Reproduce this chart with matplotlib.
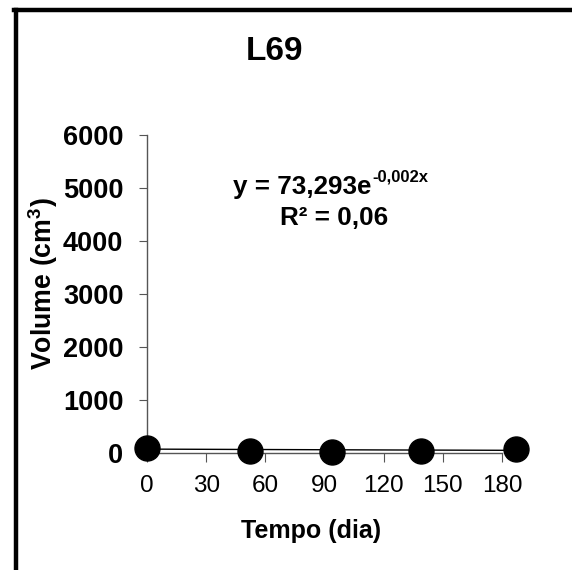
import numpy as np
import matplotlib
matplotlib.use("Agg")
import matplotlib.pyplot as plt
from matplotlib.lines import Line2D

plt.rcParams['font.family'] = ['Liberation Sans', 'DejaVu Sans']
plt.rcParams['mathtext.fontset'] = 'custom'
plt.rcParams['mathtext.rm'] = 'Liberation Sans:bold'
plt.rcParams['mathtext.default'] = 'rm'

# measured volumes per sampling day
dias = [0, 52, 94, 139, 187]
volume = [95, 35, 25, 30, 75]

# exponential trend as reported on the chart
coef_a = 73.293
coef_b = -0.002
r2 = 0.06

x_ticks = [0, 30, 60, 90, 120, 150, 180]
y_ticks = [0, 1000, 2000, 3000, 4000, 5000, 6000]

W, H = 572, 570
fig = plt.figure(figsize=(W / 100, H / 100), dpi=100)
fig.patch.set_facecolor('white')

def fx(px):
    return px / W

def fy(py):
    return 1 - py / H

ax = fig.add_axes([fx(147), fy(453), fx(502) - fx(147), fy(135) - fy(453)])
ax.set_xlim(0, 180)
ax.set_ylim(0, 6000)

xx = np.linspace(0, max(dias), 200)
ax.plot(xx, coef_a * np.exp(coef_b * xx), color='black', lw=1.0, clip_on=False, zorder=3)
ax.plot(dias, volume, 'o', ms=18, color='black', clip_on=False, zorder=4)

for side in ['top', 'right']:
    ax.spines[side].set_visible(False)
for side in ['left', 'bottom']:
    ax.spines[side].set_color('#555555')
    ax.spines[side].set_linewidth(1.0)

ax.set_xticks(x_ticks)
ax.set_yticks(y_ticks)
ax.tick_params(axis='x', direction='out', length=6.5, width=0.8, color='#555555',
               pad=9, labelsize=17.5)
ax.tick_params(axis='y', direction='out', length=6, width=0.8, color='#555555',
               pad=11, labelsize=19.5)
for lab in ax.get_yticklabels():
    lab.set_fontweight('bold')

# title, axis labels
fig.text(fx(274), fy(52), 'L69', ha='center', va='center', fontsize=24, fontweight='bold')
fig.text(fx(43), fy(284), 'Volume (cm$^{3}$)', ha='center', va='center',
         rotation=90, fontsize=19.3, fontweight='bold')
fig.text(fx(311), fy(531), 'Tempo (dia)', ha='center', va='center',
         fontsize=18, fontweight='bold')

# trend equation
eq = fig.text(fx(233), fy(187), 'y = 73,293e', ha='left', va='center',
              fontsize=18.7, fontweight='bold')
ax.annotate('-0,002x', xy=(1, 0.9), xycoords=eq, xytext=(1, 0),
            textcoords='offset points', ha='left', va='center',
            fontsize=12, fontweight='bold')
fig.text(fx(334), fy(218), 'R² = 0,06', ha='center', va='center',
         fontsize=18.8, fontweight='bold')

# frame lines on left and top
fig.add_artist(Line2D([fx(16), fx(16)], [fy(10), 0], color='black', lw=3.2,
                      transform=fig.transFigure))
fig.add_artist(Line2D([fx(14), 1], [fy(10), fy(10)], color='black', lw=3.2,
                      transform=fig.transFigure))

fig.savefig('out.png', dpi=100)
